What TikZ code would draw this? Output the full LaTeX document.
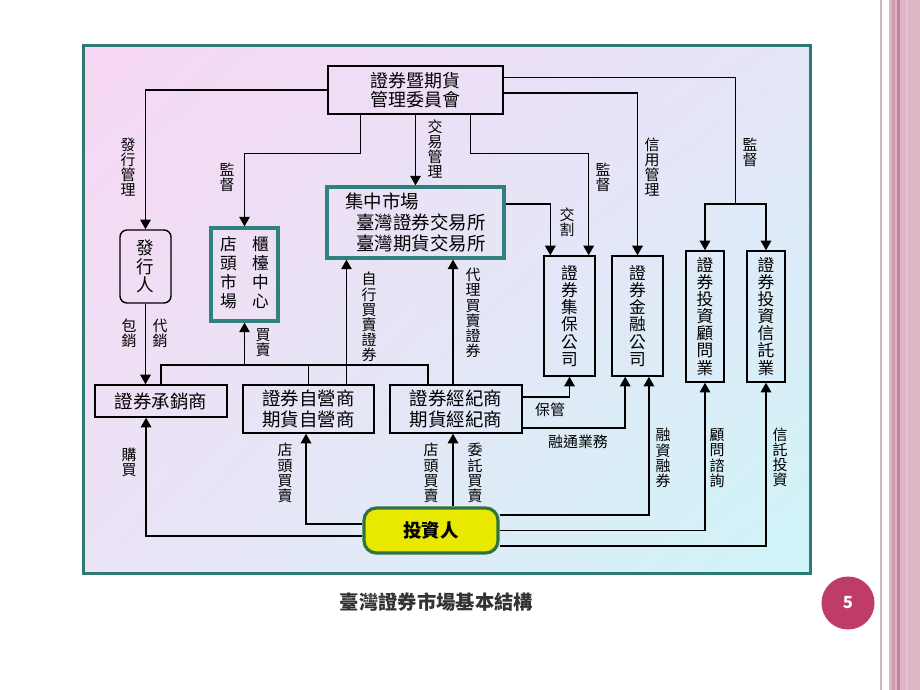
\documentclass[tikz,border=0pt]{standalone}
\usepackage{fontspec}
\newfontfamily\cjk{Noto Sans CJK TC}
\usetikzlibrary{arrows.meta,calc,shadings}

\definecolor{frameteal}{HTML}{2E7A74}
\definecolor{boxteal}{HTML}{318080}
\definecolor{invgreen}{HTML}{2F7440}
\definecolor{invyellow}{HTML}{E8E800}
\definecolor{bgpink}{HTML}{F7D7F3}
\definecolor{bglav}{HTML}{E5E6F8}
\definecolor{bglavb}{HTML}{EBE3F6}
\definecolor{bgcyan}{HTML}{CFF5F8}
\definecolor{pagenum}{HTML}{BF3B69}
\definecolor{stripe}{HTML}{DDB5C5}
\definecolor{stripedark}{HTML}{B9849B}
\definecolor{stripemid}{HTML}{CC9DB0}
\definecolor{stripelight}{HTML}{E6C4D1}
\definecolor{stripegray}{HTML}{CDB6BF}

\newcommand{\vstack}[1]{\begin{tabular}{@{}c@{}}#1\end{tabular}}

\begin{document}
\begin{tikzpicture}[x=0.02cm, y=-0.02cm,
    sz/.style 2 args={minimum width=#1*0.02cm, minimum height=#2*0.02cm},
    box/.style={rectangle, draw, line width=0.8pt, inner sep=0pt, align=center, font=\cjk\fontsize{10.5}{12}\selectfont},
    vbox/.style={box, font=\cjk\fontsize{9.5}{9.7}\selectfont},
    tealbox/.style={box, draw=boxteal, line width=1.8pt},
    lbl/.style={inner sep=0pt, align=center, font=\cjk\fontsize{8.5}{8.6}\selectfont},
    conn/.style={line width=0.9pt},
    arrow/.style={conn, -{Triangle[width=6pt,length=5.5pt]}}
]
    % page and frame
    \fill[white] (0,0) rectangle (920,690);
    \useasboundingbox (0,0) rectangle (920,690);
    \shade[upper left=bgpink, upper right=bglav, lower left=bglavb, lower right=bgcyan] (84,46) rectangle (810,573);
    \draw[frameteal, line width=2pt] (83.5,45.5) rectangle (810.5,573.5);

    % side stripes
    \fill[stripegray] (879.5,0) rectangle (882,690);
    \fill[stripe] (889,0) rectangle (920,690);
    \fill[stripemid] (892,0) rectangle (895,690);
    \fill[stripedark] (897,0) rectangle (900,690);
    \fill[stripelight] (906,0) rectangle (908,690);

    % boxes
    \node[box, sz={175}{48}, font=\cjk\fontsize{10.2}{10.6}\selectfont] (fsc) at (415.5,90) {證券暨期貨\\管理委員會};
    \node[box, rounded corners=4pt, sz={51}{73}, font=\cjk\fontsize{10}{10.4}\selectfont] (issuer) at (145.5,266.5) {發\\行\\人};
    \node[tealbox, sz={67}{93}, font=\cjk\fontsize{9.5}{9.4}\selectfont] (otc) at (244.5,274.5) {\vstack{店\\頭\\市\\場}\hspace{8.7pt}\vstack{櫃\\檯\\中\\心}};
    \node[tealbox, sz={177}{71}, align=left, font=\cjk\fontsize{10.5}{11.7}\selectfont] (exch) at (415.5,222.5) {集中市場\\\hspace*{0.6em}臺灣證券交易所\\\hspace*{0.6em}臺灣期貨交易所};
    \node[vbox, sz={51}{120}] (tdcc) at (569.5,316) {證\\券\\集\\保\\公\\司};
    \node[vbox, sz={51}{120}] (sfc) at (637.5,316) {證\\券\\金\\融\\公\\司};
    \node[vbox, sz={38}{131}] (advisor) at (705,316.5) {證\\券\\投\\資\\顧\\問\\業};
    \node[vbox, sz={38}{131}] (trust) at (766,316.5) {證\\券\\投\\資\\信\\託\\業};
    \node[box, sz={132}{32}] (uw) at (161,401) {證券承銷商};
    \node[box, sz={131}{48}] (dealer) at (308.5,409) {證券自營商\\期貨自營商};
    \node[box, sz={132}{48}] (broker) at (456,409) {證券經紀商\\期貨經紀商};
    \node[draw=invgreen, line width=1.8pt, fill=invyellow, rounded corners=7pt, sz={134}{45}, font=\cjk\bfseries\fontsize{10.5}{12}\selectfont] (inv) at (431,530.5) {投資人};

    \coordinate (split) at (735.5,204);
    \coordinate (bus) at (0,365);

    % from the commission
    \draw[arrow] (fsc.west) -| (issuer.north);
    \draw[arrow] ($(fsc.south west)+(33,0)$) -- ++(0,39) -| (otc.north);
    \draw[arrow] (fsc.south) -- (exch.north);
    \draw[arrow] ($(fsc.south west)+(143,0)$) -- ++(0,39) -| ([xshift=-4pt]tdcc.north east);
    \draw[arrow] ([yshift=-1.7pt]fsc.east) -| (sfc.north);
    \draw[conn] ([yshift=7pt]fsc.east) -| (split);
    \draw[arrow] (split) -| (advisor.north);
    \draw[arrow] (split) -| (trust.north);
    \draw[arrow] ([yshift=10.5pt]exch.east) -| ([xshift=4pt]tdcc.north west);

    % middle row
    \draw[arrow] (issuer.south) -- (issuer.south |- uw.north);
    \draw[conn] (uw.north) |- ([xshift=-16pt]broker.north |- bus) -- ([xshift=-16pt]broker.north);
    \draw[conn] (dealer.north) -- (dealer.north |- bus);
    \draw[arrow] (otc.south |- bus) -- (otc.south);
    \draw[arrow] ([xshift=12pt]exch.south west |- dealer.north) -- ([xshift=12pt]exch.south west);
    \draw[arrow] ([xshift=-1.7pt]broker.north) -- ([xshift=-1.7pt]broker.north |- exch.south);
    \draw[arrow] ([yshift=6.8pt]broker.east) -| (tdcc.south);
    \draw[arrow] ([yshift=-10.8pt]broker.east) -| ([xshift=-7pt]sfc.south);

    % from the investor
    \draw[arrow] ([yshift=-3pt]inv.west) -| ([xshift=-8.5pt]uw.south);
    \draw[arrow] ([yshift=3.7pt]inv.west) -| ([xshift=-1.4pt]dealer.south);
    \draw[arrow] ([xshift=-1.7pt]broker.south |- inv.north) -- ([xshift=-1.7pt]broker.south);
    \draw[arrow] ([yshift=8.8pt]inv.east) -| ([xshift=6.5pt]sfc.south);
    \draw[arrow] (inv.east) -| (advisor.south);
    \draw[arrow] ([yshift=-8.8pt]inv.east) -| (trust.south);

    % labels
    \node[lbl] (lissue) at (128,167) {發\\行\\管\\理};
    \node[lbl] (lsupa) at (227,177) {監\\督};
    \node[lbl] (ltrade) at (435,149) {交\\易\\管\\理};
    \node[lbl] (lsupb) at (603,177) {監\\督};
    \node[lbl] (lcredit) at (652,167) {信\\用\\管\\理};
    \node[lbl] (lsupc) at (750,152) {監\\督};
    \node[lbl] (lsettle) at (567,222) {交\\割};
    \node[lbl] (lfirm) at (129,333) {包\\銷};
    \node[lbl] (lbest) at (160,333) {代\\銷};
    \node[lbl] (lotc) at (263,343) {買\\賣};
    \node[lbl] (lself) at (369,317) {自\\行\\買\\賣\\證\\券};
    \node[lbl] (lagent) at (473,313) {代\\理\\買\\賣\\證\\券};
    \node[lbl] (lcustody) at (550,410) {保管};
    \node[lbl] (lfinance) at (578,442) {融通業務};
    \node[lbl] (lbuy) at (129,462) {購\\買};
    \node[lbl] (lotca) at (285,473) {店\\頭\\買\\賣};
    \node[lbl] (lotcb) at (431,473) {店\\頭\\買\\賣};
    \node[lbl] (lorder) at (475,473) {委\\託\\買\\賣};
    \node[lbl] (lmargin) at (663,458) {融\\資\\融\\券};
    \node[lbl] (ladvice) at (717,458) {顧\\問\\諮\\詢};
    \node[lbl] (ltrust) at (780,457) {信\\託\\投\\資};

    % caption and page number
    \node[font=\cjk\bfseries\fontsize{11}{13}\selectfont, text=black!80] (caption) at (436.5,602) {臺灣證券市場基本結構};
    \node[circle, fill=pagenum, minimum size=53*0.02cm, inner sep=0pt, text=white, font=\cjk\bfseries\fontsize{9.5}{10}\selectfont] (pgnum) at (848,603) {5};
\end{tikzpicture}
\end{document}
